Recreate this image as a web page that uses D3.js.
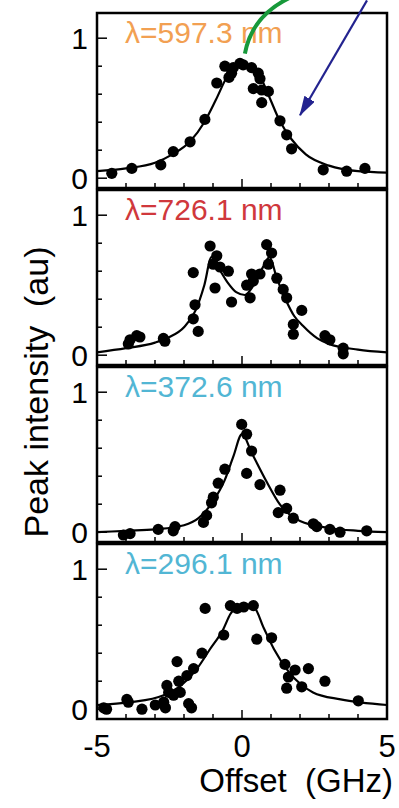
<!DOCTYPE html>
<html>
<head>
<meta charset="utf-8">
<script src="https://cdn.jsdelivr.net/npm/d3@7"></script>
<style>
  body { margin: 0; background: #fff; }
  svg { display: block; font-family: "Liberation Sans", Arial, sans-serif; }
</style>
</head>
<body>
<svg width="399" height="808"></svg>
<script>
// Panel labels and colours
const wavelengths = ['λ=597.3 nm', 'λ=726.1 nm', 'λ=372.6 nm', 'λ=296.1 nm']
const labelColors = ['#f2a052', '#d0383c', '#52b6d4', '#52b6d4']

// Measured points [offset GHz, intensity]
const points597 = [[-4.49,0.035],[-3.80,0.07],[-2.80,0.095],[-2.37,0.19],[-1.79,0.26],[-1.28,0.42],
  [-0.87,0.68],[-0.59,0.80],[-0.45,0.72],[-0.36,0.75],[-0.30,0.79],[-0.07,0.82],[0.04,0.81],[0.33,0.79],
  [0.56,0.75],[0.62,0.71],[0.39,0.64],[0.68,0.63],[0.91,0.62],[0.68,0.54],[1.31,0.41],[1.54,0.31],
  [1.71,0.21],[2.80,0.06],[3.61,0.05],[4.24,0.07]]
const points726 = [[-3.92,0.08],[-3.86,0.11],[-3.63,0.14],[-3.52,0.13],[-2.71,0.12],[-2.66,0.10],
  [-1.68,0.59],[-1.62,0.36],[-1.68,0.26],[-1.51,0.17],[-1.10,0.78],[-0.99,0.65],[-0.87,0.71],[-0.76,0.63],
  [-0.47,0.60],[-0.93,0.48],[-0.36,0.38],[0.16,0.50],[0.28,0.41],[0.33,0.58],[0.39,0.53],[0.62,0.58],
  [0.85,0.79],[1.02,0.73],[0.91,0.65],[1.20,0.55],[1.42,0.47],[1.54,0.41],[2.06,0.32],[1.77,0.22],
  [1.77,0.15],[2.86,0.14],[3.03,0.11],[3.49,0.05],[3.49,0.01]]
const points372 = [[-4.09,-0.02],[-3.86,-0.01],[-2.89,0.02],[-2.37,0.01],[-2.31,0.04],[-1.33,0.07],
  [-1.22,0.12],[-1.05,0.21],[-0.99,0.25],[-0.82,0.35],[-0.59,0.45],[-0.01,0.77],[0.16,0.70],[0.33,0.58],
  [0.16,0.42],[0.62,0.34],[1.31,0.30],[1.54,0.17],[1.25,0.14],[1.77,0.10],[2.46,0.06],[2.58,0.04],
  [3.03,0.02],[3.38,0.0],[4.30,0.01]]
const points296 = [[-4.77,0.01],[-4.67,0.0],[-3.97,0.07],[-3.92,0.05],[-3.45,0.0],[-2.99,0.03],
  [-2.70,0.05],[-2.64,0.01],[-2.59,0.17],[-2.53,0.12],[-2.36,0.10],[-2.13,0.12],[-2.18,0.20],[-2.24,0.34],
  [-1.90,0.24],[-1.84,0.04],[-1.74,0.01],[-1.67,0.29],[-1.38,0.40],[-1.27,0.72],[-0.63,0.53],[-0.40,0.74],
  [-0.17,0.72],[0.06,0.73],[0.39,0.74],[0.51,0.50],[1.02,0.51],[1.48,0.32],[1.83,0.28],[2.29,0.29],
  [1.60,0.23],[1.54,0.15],[2.06,0.16],[2.86,0.20],[4.01,0.06]]

// Fitted curves
const fit597 = [[-5,0.05],[-4,0.07],[-3,0.11],[-2.4,0.17],[-1.8,0.26],[-1.3,0.40],[-0.9,0.56],[-0.5,0.73],
  [0,0.82],[0.5,0.77],[0.9,0.60],[1.3,0.41],[1.7,0.28],[2.2,0.17],[3,0.09],[4,0.05],[5,0.04]]
const fit726 = [[-5,0.02],[-4,0.05],[-3,0.09],[-2.5,0.13],[-2,0.20],[-1.6,0.32],[-1.3,0.50],[-1.05,0.70],
  [-0.8,0.62],[-0.5,0.52],[-0.2,0.45],[0.1,0.43],[0.4,0.50],[0.7,0.62],[0.95,0.70],[1.2,0.55],[1.5,0.40],
  [1.8,0.28],[2.1,0.21],[2.6,0.12],[3,0.08],[4,0.04],[5,0.02]]
const fit372 = [[-5,0.0],[-4,0.01],[-3,0.02],[-2,0.05],[-1.5,0.10],[-1,0.22],[-0.6,0.37],[-0.3,0.54],
  [0,0.70],[0.35,0.56],[0.85,0.36],[1.3,0.20],[2,0.08],[3,0.03],[4,0.01],[5,0.0]]
const fit296 = [[-5,0.03],[-3.85,0.05],[-2.7,0.10],[-2.1,0.17],[-1.55,0.29],[-1.1,0.43],[-0.65,0.57],
  [-0.4,0.68],[-0.05,0.74],[0.4,0.73],[0.75,0.58],[1.1,0.43],[1.6,0.27],[2.45,0.12],[3.4,0.07],[5,0.03]]

const xTicks = [-5, 0, 5]
const yTickLabels = [0, 1]

const allPoints = [points597, points726, points372, points296]
const allFits = [fit597, fit726, fit372, fit296]

// Layout
const left = 97, right = 387
const panelTops = [13, 190, 367, 544]
const panelH = 175

const svg = d3.select('svg')
const x = d3.scaleLinear().domain([-5, 5]).range([left, right])

allPoints.forEach((pts, i) => {
  const top = panelTops[i]
  const y = d3.scaleLinear().domain([-0.07, 1.18]).range([top + panelH, top])
  const g = svg.append('g')

  // fit line
  const line = d3.line()
    .x(d => x(d[0]))
    .y(d => y(d[1]))
    .curve(d3.curveMonotoneX)
  g.append('path')
    .datum(allFits[i])
    .attr('d', line)
    .attr('fill', 'none')
    .attr('stroke', '#000')
    .attr('stroke-width', 2.2)

  // dots
  g.selectAll('circle')
    .data(pts)
    .enter().append('circle')
      .attr('cx', d => x(d[0]))
      .attr('cy', d => y(d[1]))
      .attr('r', 5.6)
      .attr('fill', '#000')

  // inward ticks
  g.selectAll('.xt')
    .data(d3.range(-4, 5))
    .enter().append('line')
      .attr('x1', d => x(d)).attr('x2', d => x(d))
      .attr('y1', top + panelH).attr('y2', d => top + panelH - (d === 0 ? 9 : 5))
      .attr('stroke', '#000').attr('stroke-width', 1.5)
  g.selectAll('.yt')
    .data(d3.range(0, 6).map(k => k * 0.2))
    .enter().append('line')
      .attr('x1', left).attr('x2', (d, k) => left + (k === 0 || k === 5 ? 10 : 5))
      .attr('y1', d => y(d)).attr('y2', d => y(d))
      .attr('stroke', '#000').attr('stroke-width', 1.5)

  // frame
  g.append('rect')
    .attr('x', left).attr('y', top)
    .attr('width', right - left).attr('height', panelH)
    .attr('fill', 'none')
    .attr('stroke', '#000')
    .attr('stroke-width', 2.5)

  // y tick labels
  g.selectAll('.yl')
    .data(yTickLabels)
    .enter().append('text')
      .attr('x', 88)
      .attr('y', d => y(d))
      .attr('dy', '0.36em')
      .attr('text-anchor', 'end')
      .attr('font-size', 30)
      .text(d => d)

  // wavelength label
  g.append('text')
    .attr('x', 125)
    .attr('y', top + 30)
    .attr('font-size', 30)
    .attr('fill', labelColors[i])
    .text(wavelengths[i])

  // annotation arrows on the top panel
  if (i === 0) {
    const arc = d3.path()
    arc.moveTo(x(0.1), y(0.89))
    arc.quadraticCurveTo(x(0.34), y(1.16), x(1.66), y(1.29))
    svg.append('path')
      .attr('d', arc.toString())
      .attr('fill', 'none')
      .attr('stroke', '#17993a')
      .attr('stroke-width', 4)

    const defs = svg.append('defs')
    defs.append('marker')
      .attr('id', 'head')
      .attr('viewBox', '0 0 20 12')
      .attr('refX', 19).attr('refY', 6)
      .attr('markerWidth', 20).attr('markerHeight', 12)
      .attr('markerUnits', 'userSpaceOnUse')
      .attr('orient', 'auto')
      .append('path')
        .attr('d', 'M0,0 L20,6 L0,12 Z')
        .attr('fill', '#23238f')
    svg.append('line')
      .attr('x1', x(4.31)).attr('y1', y(1.27))
      .attr('x2', x(2.0)).attr('y2', y(0.45))
      .attr('stroke', '#23238f')
      .attr('stroke-width', 2.2)
      .attr('marker-end', 'url(#head)')
  }
})

// x tick labels under the last panel
svg.selectAll('.xl')
  .data(xTicks)
  .enter().append('text')
    .attr('x', d => x(d))
    .attr('y', 757)
    .attr('text-anchor', 'middle')
    .attr('font-size', 31)
    .text(d => d)

svg.append('text')
  .attr('x', 393)
  .attr('y', 792)
  .attr('text-anchor', 'end')
  .attr('font-size', 33)
  .attr('xml:space', 'preserve')
  .text('Offset  (GHz)')

svg.append('text')
  .attr('transform', 'translate(48,392) rotate(-90)')
  .attr('text-anchor', 'middle')
  .attr('font-size', 34)
  .attr('xml:space', 'preserve')
  .text('Peak intensity  (au)')
</script>
</body>
</html>
